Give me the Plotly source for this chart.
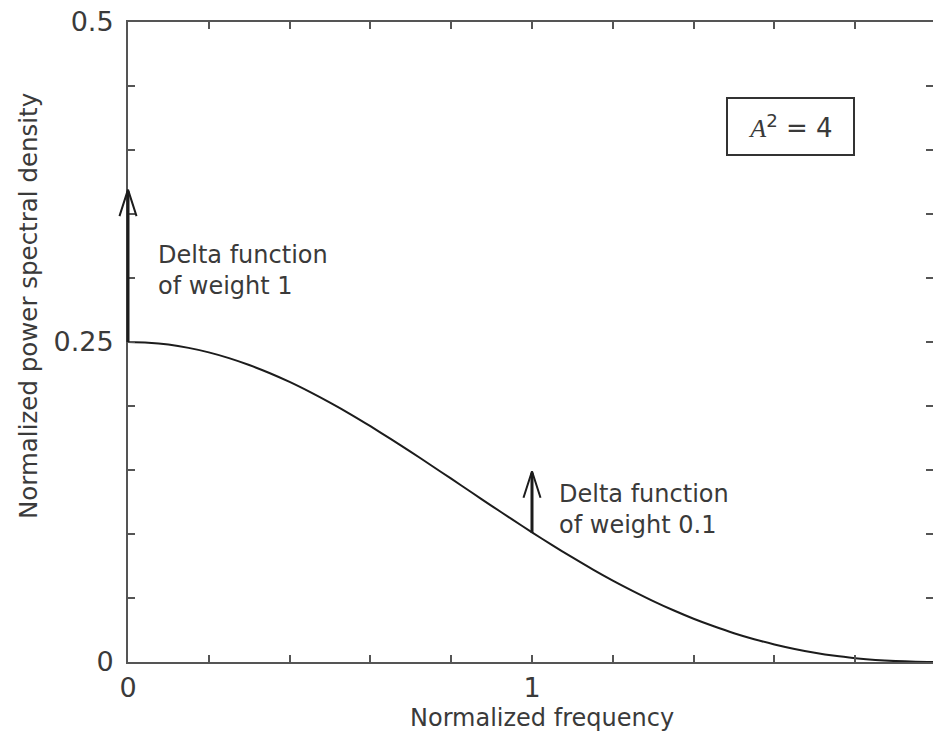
import plotly.graph_objects as go

# ---- data ----
freq = [0.00, 0.05, 0.10, 0.15, 0.20, 0.25, 0.30, 0.35, 0.40, 0.45, 0.50,
        0.55, 0.60, 0.65, 0.70, 0.75, 0.80, 0.85, 0.90, 0.95, 1.00,
        1.05, 1.10, 1.15, 1.20, 1.25, 1.30, 1.35, 1.40, 1.45, 1.50,
        1.55, 1.60, 1.65, 1.70, 1.75, 1.80, 1.85, 1.90, 1.95, 2.00]
psd = [0.2500, 0.2495, 0.2480, 0.2454, 0.2419, 0.2374, 0.2320, 0.2258, 0.2188, 0.2110, 0.2026,
       0.1937, 0.1842, 0.1743, 0.1642, 0.1537, 0.1432, 0.1326, 0.1220, 0.1116, 0.1013,
       0.0913, 0.0817, 0.0724, 0.0636, 0.0554, 0.0476, 0.0404, 0.0338, 0.0279, 0.0225,
       0.0178, 0.0137, 0.0102, 0.0072, 0.0048, 0.0030, 0.0016, 0.0007, 0.0002, 0.0000]

delta_freqs = [0.0, 1.0]
delta_bases = [0.250, 0.101]
delta_tips = [0.369, 0.149]
delta_labels = ["Delta function<br>of weight 1", "Delta function<br>of weight 0.1"]
delta_label_pos = [(0.070, 0.306), (1.062, 0.119)]

x_tickvals = [0.0, 0.2, 0.4, 0.6, 0.8, 1.0, 1.2, 1.4, 1.6, 1.8, 2.0]
x_ticktext = ["0", "", "", "", "", "1", "", "", "", "", "2"]
y_tickvals = [0.0, 0.05, 0.10, 0.15, 0.20, 0.25, 0.30, 0.35, 0.40, 0.45, 0.50]
y_ticktext = ["0", "", "", "", "", "0.25", "", "", "", "", "0.5"]

x_title = "Normalized frequency"
y_title = "Normalized power spectral density"
box_text = "<span style='font-family:Liberation Serif'><i>A</i></span><sup>2</sup> = 4"

# ---- style ----
W, H = 933, 745
ML, MT, MB, MR = 128, 22, 83, 0
XMAX = (W - ML) / 404.0
FONT = "DejaVu Sans"
AXC = "#555555"
TXT = "#3a3a3a"
INK = "#1c1c1c"

fig = go.Figure()
fig.add_trace(go.Scatter(x=freq, y=psd, mode="lines",
                         line=dict(color=INK, width=2, shape="spline", smoothing=0.8),
                         hoverinfo="skip", showlegend=False))
# dummy trace for right-side mirrored ticks
fig.add_trace(go.Scatter(x=[freq[0]], y=[psd[0]], yaxis="y2", mode="markers",
                         marker=dict(opacity=0), hoverinfo="skip", showlegend=False))

annotations = []
for f, b, t in zip(delta_freqs, delta_bases, delta_tips):
    # stem
    annotations.append(dict(x=f, y=b, ax=f, ay=t, xref="x", yref="y", axref="x", ayref="y",
                            text="", showarrow=True, arrowhead=0, arrowwidth=3,
                            arrowcolor=INK, standoff=0, startstandoff=0))
    # chevron head
    for side in (-1, 1):
        annotations.append(dict(x=f, y=t, ax=side * 9, ay=28, xref="x", yref="y",
                                text="", showarrow=True, arrowhead=0, arrowwidth=2,
                                arrowcolor=INK, standoff=0, startstandoff=0))

for txt, (lx, ly) in zip(delta_labels, delta_label_pos):
    annotations.append(dict(x=lx, y=ly, xref="x", yref="y", text=txt, showarrow=False,
                            xanchor="left", yanchor="middle", align="left",
                            font=dict(family=FONT, size=24, color=TXT)))

annotations.append(dict(x=1.639, y=0.418, xref="x", yref="y", text=box_text,
                        showarrow=False, xanchor="center", yanchor="middle",
                        bordercolor="#333333", borderwidth=2, borderpad=2,
                        width=121, height=51, bgcolor="white",
                        font=dict(family=FONT, size=26, color=TXT)))

annotations.append(dict(x=(542 - ML) / (W - ML - MR), y=(H - MB - 718) / (H - MT - MB),
                        xref="paper", yref="paper", text=x_title, showarrow=False,
                        xanchor="center", yanchor="middle",
                        font=dict(family=FONT, size=24, color=TXT)))
annotations.append(dict(x=(28 - ML) / (W - ML - MR), y=(H - MB - 306) / (H - MT - MB),
                        xref="paper", yref="paper", text=y_title, showarrow=False,
                        textangle=-90, xanchor="center", yanchor="middle",
                        font=dict(family=FONT, size=24.5, color=TXT)))

fig.update_layout(
    width=W, height=H,
    margin=dict(l=ML, r=MR, t=MT, b=MB, pad=0),
    paper_bgcolor="white", plot_bgcolor="white",
    showlegend=False,
    annotations=annotations,
    xaxis=dict(range=[0, XMAX], tickvals=x_tickvals, ticktext=x_ticktext,
               ticks="inside", ticklen=7, tickwidth=2, tickcolor=AXC,
               showline=True, linecolor=AXC, linewidth=2, mirror="ticks",
               showgrid=False, zeroline=False, ticklabelstandoff=1,
               tickfont=dict(family=FONT, size=27, color=TXT)),
    yaxis=dict(range=[0, 0.5], tickvals=y_tickvals, ticktext=y_ticktext,
               ticks="inside", ticklen=7, tickwidth=2, tickcolor=AXC,
               showline=True, linecolor=AXC, linewidth=2, mirror=False,
               showgrid=False, zeroline=False, ticklabelstandoff=7,
               tickfont=dict(family=FONT, size=27, color=TXT)),
    yaxis2=dict(range=[0, 0.5], tickvals=y_tickvals, overlaying="y", side="right",
                anchor="x", ticks="inside", ticklen=7, tickwidth=2, tickcolor=AXC,
                showline=False, showgrid=False, zeroline=False, showticklabels=False),
)

fig.write_html("out.html")
